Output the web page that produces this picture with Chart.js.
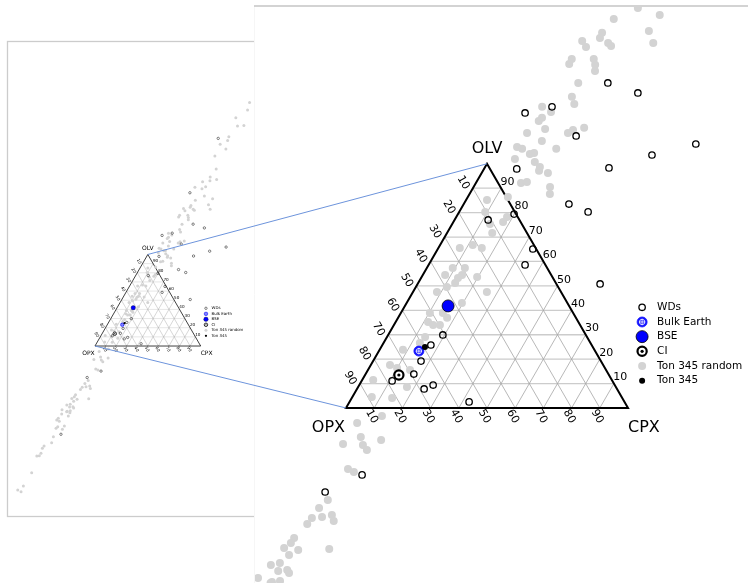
<!DOCTYPE html>
<html>
<head>
<meta charset="utf-8">
<script src="https://cdn.jsdelivr.net/npm/chart.js@4.4.1/dist/chart.umd.min.js"></script>
<style>
  html, body { margin: 0; padding: 0; background: #fff; }
  #wrap { position: relative; width: 748px; height: 583px; overflow: hidden; }
  canvas { position: absolute; left: 0; top: 0; }
</style>
</head>
<body>
<div id="wrap">
  <canvas id="insetChart" width="748" height="583"></canvas>
  <canvas id="mainChart" width="748" height="583"></canvas>
</div>
<script>
// compositions in %, [OLV, CPX]  (OPX = 100 - OLV - CPX)
const ton345Random = [
  [163.8,21.6],[160.9,30.8],[159.3,15.3],[154.4,30.2],[149.5,34.2],[153.6,14.0],[151.5,14.3],[150.3,8.6],
  [147.8,11.2],[149.5,18.2],[148.2,19.9],[142.9,16.4],[140.5,18.1],[138.0,19.3],[142.9,8.6],[140.9,8.7],
  [133.1,15.8],[127.4,16.4],[124.5,18.7],[114.7,27.1],[113.8,23.6],[112.6,22.4],[123.3,7.9],[121.2,12.1],
  [118.8,10.1],[117.5,9.6],[114.2,13.5],[112.6,7.9],[109.3,14.8],[106.1,21.5],[106.9,7.2],[106.1,9.4],
  [104.4,14.5],[104.0,13.2],[102.0,8.9],[100.7,16.6],[98.7,19.4],[97.1,19.9],[96.2,23.5],[92.1,16.0],
  [92.5,17.9],[90.5,27.1],[87.6,28.5],[86.4,14.2],[85.2,7.4],[80.3,9.2],[75.3,13.4],[76.2,17.6],
  [78.2,18.0],[71.7,16.0],[65.5,7.6],[66.7,11.6],[65.5,15.4],[57.3,9.2],[57.3,13.5],[54.5,7.9],
  [53.2,13.1],[54.5,13.9],[51.2,13.1],[53.6,19.7],[47.5,8.5],[49.5,11.0],[47.5,26.2],[43.0,19.6],
  [38.9,14.9],[38.9,10.3],[36.9,17.4],[34.0,16.3],[35.2,11.5],[34.0,13.9],[29.1,13.5],[26.6,12.9],
  [23.8,8.3],[17.6,6.8],[16.4,9.9],[15.6,14.9],[8.6,17.3],[11.5,3.9],[4.5,6.9],[4.1,14.3],
  [-6.1,7.0],[-3.3,14.4],[-14.7,6.3],[-11.9,11.2],[-15.2,13.6],[-17.2,16.0],[-13.1,19.0],[-25.0,13.2],
  [-26.2,15.9],[-40.9,10.9],[-37.7,12.4],[-43.8,16.9],[-46.3,18.8],[-45.0,10.4],[-47.5,10.0],[-44.6,13.8],
  [-53.2,8.2],[-55.3,8.1],[-58.1,12.1],[-57.3,6.7],[-60.2,9.9],[-57.7,22.9],[-63.5,8.3],[-64.3,5.5],
  [-66.7,9.3],[-66.3,12.3],[-67.6,13.6],[-69.6,3.6],[-71.3,9.4],[-70.8,12.0],
  [266.1,13.2],[257.7,15.5],[249.3,8.6],[240.3,14.7],[241.0,20.4],[228.5,12.4],[224.6,13.2],[215.1,16.3],
  [220.3,8.3],[207.5,9.7],[193.3,18.0],[184.6,16.7],[180.5,18.5],[182.0,24.1],[179.4,12.1],[174.0,17.7],
  [171.8,15.3],[173.3,7.9],
  [-72.9,12.7],[-71.7,9.1],[-76.5,13.0],[-74.2,5.6],[-79.0,4.8],[-80.8,4.2],[-82.2,7.3],[-87.3,14.7],
  [-88.1,8.8],[-89.9,8.1],[-90.9,14.6],[-99.1,10.2],[-105.6,11.8],[-109.2,6.4],[-111.7,6.1],[-117.2,7.5],
  [-120.1,5.0],[-119.8,7.2],[-138.4,9.3],[-152.9,8.7],[-157.2,5.5],[-159.1,9.6]
];
const wds = [
  [108.1,70.0],[103.6,56.7],[98.3,44.1],[133.1,26.3],[129.0,39.0],[111.4,25.9],[123.3,11.4],[120.8,3.1],
  [97.9,11.6],[83.5,37.3],[80.3,45.7],[77.0,11.9],[79.4,19.9],[65.1,33.7],[58.6,34.2],[50.8,64.7],
  [29.9,19.4],[25.8,17.2],[19.2,17.0],[13.9,17.1],[11.1,10.8],[9.4,26.2],[7.8,23.8],[2.5,42.4],
  [-27.4,19.4],[-34.4,9.8],[226.8,3.2],[167.4,6.1],[-96.4,16.0]
];
const bulkEarth = [[23.3, 14.2]];
const bse = [[41.8, 15.3]];
const ci = [[13.5, 12.0]];
const ton345 = [[25.0, 15.5]];

const tickValues = [10, 20, 30, 40, 50, 60, 70, 80, 90];
const seriesNames = ['WDs', 'Bulk Earth', 'BSE', 'CI', 'Ton 345 random', 'Ton 345'];

const SQ = Math.sqrt(3) / 2;
const FONT = "'DejaVu Sans', sans-serif";

function xy(olv, cpx) { return { x: cpx + olv / 2, y: olv * SQ }; }
function toXY(list) { return list.map(p => xy(p[0], p[1])); }

function buildDatasets(k) {
  return [
    { group: 'Ton 345', data: toXY(ton345), pointRadius: 3 * k, backgroundColor: '#000', borderColor: '#000', borderWidth: 0, order: 0 },
    { group: 'CI', data: toXY(ci), pointRadius: 1.6 * k, backgroundColor: '#000', borderColor: '#000', borderWidth: 0, order: 1 },
    { group: 'CI', data: toXY(ci), pointRadius: 4.6 * k, backgroundColor: '#fff', borderColor: '#000', borderWidth: 2.2 * k, order: 2 },
    { group: 'Bulk Earth', data: toXY(bulkEarth), pointStyle: 'cross', pointRadius: 3.2 * k, backgroundColor: '#fff', borderColor: '#fff', borderWidth: 0.8 * k, order: 3 },
    { group: 'Bulk Earth', data: toXY(bulkEarth), pointRadius: 2.7 * k, backgroundColor: 'rgba(0,0,0,0)', borderColor: '#fff', borderWidth: 0.8 * k, order: 4 },
    { group: 'Bulk Earth', data: toXY(bulkEarth), pointRadius: 5 * k, backgroundColor: '#1414ff', borderColor: '#1414ff', borderWidth: 0.8 * k, order: 5 },
    { group: 'BSE', data: toXY(bse), pointRadius: 6 * k, backgroundColor: '#0000ff', borderColor: '#000', borderWidth: 0.8 * k, order: 6 },
    { group: 'WDs', data: toXY(wds), pointRadius: 3.2 * k, backgroundColor: 'rgba(0,0,0,0)', borderColor: '#000', borderWidth: 1.3 * k, order: 7 },
    { group: 'Ton 345 random', data: toXY(ton345Random), pointRadius: 4 * k, backgroundColor: '#d3d3d3', borderColor: '#d3d3d3', borderWidth: 0, order: 8 }
  ].map(ds => Object.assign({ label: ds.group, clip: 0, pointHoverRadius: ds.pointRadius }, ds));
}

// legend anchor in plot units
const legendX = 105, legendY0 = 35.7, legendStep = 5.2;

function decor(k, inset) {
  const P = (chart, p) => ({ x: chart.scales.x.getPixelForValue(p.x), y: chart.scales.y.getPixelForValue(p.y) });
  const seg = (chart, ctx, a, b) => {
    const p = P(chart, a), q = P(chart, b);
    ctx.moveTo(p.x, p.y); ctx.lineTo(q.x, q.y);
  };
  return {
    id: 'decor',
    beforeDraw(chart) {
      const { ctx, chartArea: a } = chart;
      ctx.save();
      if (inset) {
        ctx.strokeStyle = '#cccccc';
        ctx.lineWidth = 1.3;
        ctx.strokeRect(a.left - 0.5, a.top - 0.5, a.right - a.left + 30, a.bottom - a.top + 1);
      } else {
        ctx.fillStyle = '#fff';
        ctx.fillRect(a.left - 1, a.top, a.right - a.left + 1, a.bottom - a.top);
        ctx.strokeStyle = '#f6f6f6';
        ctx.lineWidth = 1;
        ctx.beginPath(); ctx.moveTo(a.left - 0.5, a.top); ctx.lineTo(a.left - 0.5, a.bottom); ctx.stroke();
        ctx.strokeStyle = '#c4c4c4';
        ctx.lineWidth = 1.5;
        ctx.beginPath(); ctx.moveTo(a.left - 1, a.top); ctx.lineTo(a.right, a.top); ctx.stroke();
      }
      ctx.restore();
    },
    beforeDatasetsDraw(chart) {
      const { ctx, chartArea: a } = chart;
      ctx.save();
      ctx.beginPath(); ctx.rect(a.left, a.top, a.right - a.left, a.bottom - a.top); ctx.clip();
      // constant OLV
      ctx.strokeStyle = '#cccccc';
      ctx.lineWidth = Math.max(1.3 * k, 0.5);
      ctx.beginPath();
      tickValues.forEach(v => seg(chart, ctx, xy(v, 0), xy(v, 100 - v)));
      ctx.stroke();
      // constant CPX / OPX
      ctx.strokeStyle = '#a6a6a6';
      ctx.lineWidth = Math.max(0.8 * k, 0.45);
      ctx.beginPath();
      tickValues.forEach(v => {
        seg(chart, ctx, xy(0, v), xy(100 - v, v));
        seg(chart, ctx, xy(100 - v, 0), xy(0, 100 - v));
      });
      ctx.stroke();
      // triangle
      const A = P(chart, xy(100, 0)), B = P(chart, xy(0, 0)), C = P(chart, xy(0, 100));
      ctx.strokeStyle = '#000';
      ctx.lineWidth = 2 * k;
      ctx.lineJoin = 'miter';
      ctx.beginPath(); ctx.moveTo(A.x, A.y); ctx.lineTo(B.x, B.y); ctx.lineTo(C.x, C.y); ctx.closePath(); ctx.stroke();
      ctx.restore();
    },
    afterDatasetsDraw(chart) {
      const { ctx, chartArea: a } = chart;
      ctx.save();
      ctx.beginPath(); ctx.rect(a.left, a.top, a.right - a.left, a.bottom - a.top); ctx.clip();
      ctx.fillStyle = '#000';
      // corner labels
      const A = P(chart, xy(100, 0)), B = P(chart, xy(0, 0)), C = P(chart, xy(0, 100));
      ctx.font = (16 * k) + 'px ' + FONT;
      ctx.textBaseline = 'middle';
      ctx.textAlign = 'center'; ctx.fillText('OLV', A.x, A.y - 15 * k);
      ctx.textAlign = 'right'; ctx.fillText('OPX', B.x - 1 * k, B.y + 20 * k);
      ctx.textAlign = 'left'; ctx.fillText('CPX', C.x, C.y + 20 * k);
      // tick labels
      ctx.font = (11 * k) + 'px ' + FONT;
      ctx.textAlign = 'center';
      tickValues.forEach(v => {
        const r = P(chart, xy(v, 100 - v));
        ctx.fillText(String(v), r.x + 6.4 * k, r.y - 6.2 * k);
        const l = P(chart, xy(100 - v, 0));
        ctx.save(); ctx.translate(l.x - 9.8 * k, l.y - 5.5 * k); ctx.rotate(Math.PI / 3);
        ctx.fillText(String(v), 0, 0); ctx.restore();
        const b = P(chart, xy(0, v));
        ctx.save(); ctx.translate(b.x - 2.5 * k, b.y + 8.5 * k); ctx.rotate(Math.PI / 3);
        ctx.fillText(String(v), 0, 0); ctx.restore();
      });
      // legend
      ctx.font = (10.5 * k) + 'px ' + FONT;
      ctx.textAlign = 'left';
      seriesNames.forEach((name, i) => {
        const m = P(chart, { x: legendX, y: legendY0 - i * legendStep });
        const parts = chart.data.datasets.filter(ds => ds.group === name).sort((p, q) => q.order - p.order);
        parts.forEach(ds => {
          ctx.save();
          ctx.fillStyle = ds.backgroundColor;
          ctx.strokeStyle = ds.borderColor;
          ctx.lineWidth = ds.borderWidth;
          Chart.helpers.drawPoint(ctx, { pointStyle: ds.pointStyle || 'circle', rotation: 0, radius: ds.pointRadius, borderWidth: ds.borderWidth }, m.x, m.y);
          ctx.restore();
        });
        ctx.fillStyle = '#000';
        ctx.fillText(name, m.x + 15 * k, m.y);
      });
      ctx.restore();
    }
  };
}

function makeChart(id, k, inset, padding, ranges, extraPlugins) {
  return new Chart(document.getElementById(id), {
    type: 'scatter',
    data: { datasets: buildDatasets(k) },
    options: {
      responsive: false,
      animation: false,
      events: [],
      layout: { padding: padding, autoPadding: false },
      plugins: { legend: { display: false }, tooltip: { enabled: false } },
      scales: {
        x: { type: 'linear', display: false, min: ranges[0], max: ranges[1] },
        y: { type: 'linear', display: false, min: ranges[2], max: ranges[3] }
      }
    },
    plugins: [decor(k, inset)].concat(extraPlugins || [])
  });
}

// small overview copy (scale 0.375 of the main plot)
const insetChart = makeChart('insetChart', 0.375, true,
  { left: 8, top: 42, right: 493, bottom: 67 },
  [-82.3, 151.4, -160.8, 287.6]);

// blue lines linking the overview triangle to the zoomed one
const linkLines = {
  id: 'links',
  afterDraw(chart) {
    const ctx = chart.ctx;
    const pairs = [xy(100, 0), xy(0, 0)];
    ctx.save();
    ctx.strokeStyle = '#6d94dc';
    ctx.lineWidth = 1;
    pairs.forEach(p => {
      const s = { x: insetChart.scales.x.getPixelForValue(p.x), y: insetChart.scales.y.getPixelForValue(p.y) };
      const e = { x: chart.scales.x.getPixelForValue(p.x), y: chart.scales.y.getPixelForValue(p.y) };
      ctx.beginPath(); ctx.moveTo(s.x, s.y); ctx.lineTo(e.x, e.y); ctx.stroke();
    });
    ctx.restore();
  }
};

const mainChart = makeChart('mainChart', 1, false,
  { left: 255, top: 6, right: 0, bottom: 0 },
  [-32.27, 142.55, -62.06, 142.55], [linkLines]);
</script>
</body>
</html>
